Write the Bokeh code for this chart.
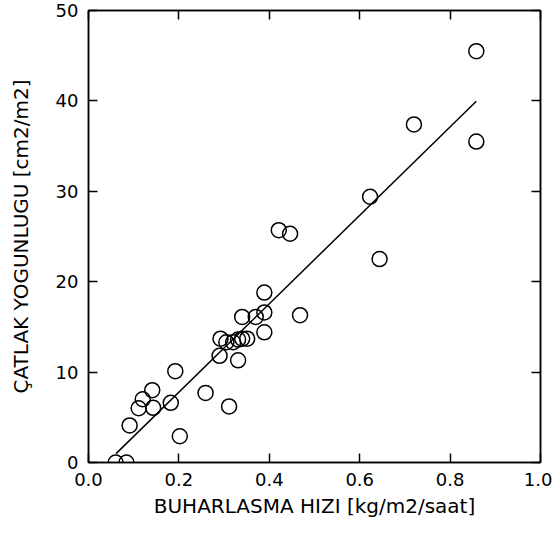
from bokeh.plotting import figure
from bokeh.models import LinearAxis, FixedTicker, Range1d, CustomJSTickFormatter
from bokeh.embed import file_html
from bokeh.resources import INLINE

# Evaporation rate [kg/m2/h] and crack density [cm2/m2]
evap_rate = [0.060, 0.084, 0.091, 0.111, 0.120, 0.141, 0.143, 0.182, 0.192, 0.202,
             0.259, 0.311, 0.292, 0.305, 0.320, 0.331, 0.340, 0.351, 0.290, 0.331,
             0.340, 0.370, 0.389, 0.389, 0.389, 0.468, 0.421, 0.446, 0.623, 0.644,
             0.720, 0.858, 0.858]
crack_density = [0.0, 0.0, 4.1, 6.0, 7.0, 8.0, 6.05, 6.6, 10.1, 2.9,
                 7.7, 6.2, 13.7, 13.3, 13.3, 13.6, 13.7, 13.7, 11.8, 11.3,
                 16.1, 16.1, 18.8, 16.6, 14.4, 16.3, 25.7, 25.3, 29.4, 22.5,
                 37.4, 45.5, 35.5]

# Regression line
fit_slope = 48.9
fit_intercept = -2.0
fit_x = [0.061, 0.858]
fit_y = [fit_slope * v + fit_intercept for v in fit_x]

x_ticks = [0.0, 0.2, 0.4, 0.6, 0.8, 1.0]
y_ticks = [0, 10, 20, 30, 40, 50]

FONT = "DejaVu Sans"
TICK_FS = "18px"
TITLE_FS = "20px"

p = figure(width=552, height=532, output_backend="svg", toolbar_location=None,
           x_range=Range1d(0, 1.0), y_range=Range1d(0, 50),
           min_border_left=88, min_border_right=12, min_border_top=10, min_border_bottom=70)
p.grid.visible = False
p.outline_line_color = "black"
p.outline_line_width = 1.5

p.xaxis.ticker = FixedTicker(ticks=x_ticks)
p.yaxis.ticker = FixedTicker(ticks=y_ticks)
p.xaxis.formatter = CustomJSTickFormatter(code="return tick.toFixed(1);")
p.xaxis.axis_label = "BUHARLASMA HIZI [kg/m2/saat]"
p.yaxis.axis_label = "ÇATLAK YOGUNLUGU [cm2/m2]"

for ax in (p.xaxis[0], p.yaxis[0]):
    ax.major_tick_in = 9
    ax.major_tick_out = 0
    ax.minor_tick_in = 0
    ax.minor_tick_out = 0
    ax.major_tick_line_width = 1.5
    ax.axis_line_width = 1.5
    ax.major_label_text_font = FONT
    ax.major_label_text_font_size = TICK_FS
    ax.major_label_text_color = "black"
    ax.axis_label_text_font = FONT
    ax.axis_label_text_font_size = TITLE_FS
    ax.axis_label_text_font_style = "normal"
    ax.axis_label_text_color = "black"

p.xaxis.major_label_standoff = 10
p.xaxis.axis_label_standoff = 5
p.yaxis.major_label_standoff = 10
p.yaxis.axis_label_standoff = 20

blank = CustomJSTickFormatter(code="return '';")
top = LinearAxis(ticker=FixedTicker(ticks=x_ticks), formatter=blank,
                 major_tick_in=9, major_tick_out=0, minor_tick_in=0, minor_tick_out=0,
                 major_tick_line_width=1.5, axis_line_width=1.5, major_label_standoff=0,
                 major_label_text_font_size="0px")
right = LinearAxis(ticker=FixedTicker(ticks=y_ticks), formatter=blank,
                   major_tick_in=9, major_tick_out=0, minor_tick_in=0, minor_tick_out=0,
                   major_tick_line_width=1.5, axis_line_width=1.5, major_label_standoff=0,
                   major_label_text_font_size="0px")
p.add_layout(top, "above")
p.add_layout(right, "right")

p.line(fit_x, fit_y, line_color="black", line_width=1.5)
p.scatter(evap_rate, crack_density, marker="circle", size=15,
          fill_color=None, line_color="black", line_width=1.5)

open("out.html", "w").write(file_html(p, INLINE))
